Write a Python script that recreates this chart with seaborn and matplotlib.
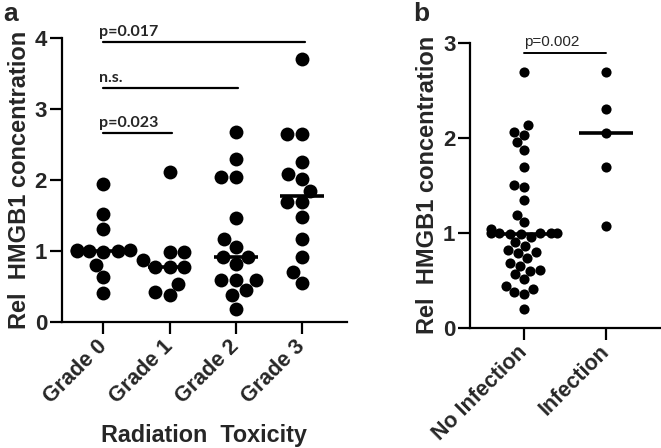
import numpy as np
import pandas as pd
import matplotlib
matplotlib.use("Agg")
import matplotlib.pyplot as plt
import seaborn as sns

# ---------------- data ----------------
grades = ["Grade 0", "Grade 1", "Grade 2", "Grade 3"]
grade0 = [1.95, 1.52, 1.31, 1.02, 1.01, 1.0, 1.0, 1.0, 0.99, 0.80, 0.63, 0.41]
grade1 = [2.11, 0.99, 0.99, 0.87, 0.77, 0.77, 0.77, 0.54, 0.42, 0.38]
grade2 = [2.68, 2.30, 2.04, 2.04, 1.46, 1.17, 1.06, 0.92, 0.92, 0.82,
          0.59, 0.59, 0.59, 0.45, 0.38, 0.19]
grade3 = [3.71, 2.65, 2.65, 2.25, 2.09, 2.02, 1.85, 1.69, 1.69, 1.48,
          1.17, 0.92, 0.70, 0.55]

groups_b = ["No Infection", "Infection"]
no_infection = [2.69, 2.13, 2.06, 2.03, 1.95, 1.87, 1.69, 1.50, 1.48, 1.34,
                1.19, 1.11, 1.04, 1.0, 1.0, 1.0, 1.0, 1.0, 0.99, 0.99,
                0.95, 0.90, 0.86, 0.82, 0.80, 0.78, 0.73, 0.68, 0.65, 0.61,
                0.60, 0.56, 0.51, 0.44, 0.41, 0.37, 0.35, 0.19]
infection = [2.69, 2.30, 2.05, 1.69, 1.07]

# significance annotations: (group i, group j, y of bar, label)
sig_a = [(0, 3, 3.94, "p=0.017"), (0, 2, 3.29, "n.s."), (0, 1, 2.66, "p=0.023")]
sig_b = [(0, 1, 2.89, "p=0.002")]

df_a = pd.DataFrame({
    "grade": sum([[g] * len(v) for g, v in zip(grades, [grade0, grade1, grade2, grade3])], []),
    "value": grade0 + grade1 + grade2 + grade3,
})
df_b = pd.DataFrame({
    "group": ["No Infection"] * len(no_infection) + ["Infection"] * len(infection),
    "value": no_infection + infection,
})

# ---------------- style ----------------
sns.set_style("ticks")
plt.rcParams["font.family"] = ["Liberation Sans", "DejaVu Sans"]
plt.rcParams["font.weight"] = "bold"
plt.rcParams["axes.labelweight"] = "bold"

W, H = 661, 448
fig = plt.figure(figsize=(W / 100, H / 100), dpi=100)
axa = fig.add_axes([61.7 / W, (H - 322) / H, (347 - 61.7) / W, (322 - 38) / H])
axb = fig.add_axes([470 / W, (H - 327.5) / H, (W - 470) / W, (327.5 - 42.7) / H])

def style_axes(ax):
    for s in ["top", "right"]:
        ax.spines[s].set_visible(False)
    for s in ["left", "bottom"]:
        ax.spines[s].set_linewidth(1.6)
        ax.spines[s].set_color("k")
    ax.tick_params(axis="both", direction="out", length=8.5, width=1.6, color="k",
                   labelsize=16, pad=2)
    ax.tick_params(axis="x", pad=7)

def style_xticklabels(ax):
    for lab in ax.get_xticklabels():
        lab.set_rotation(45)
        lab.set_ha("right")
        lab.set_va("center")
        lab.set_rotation_mode("anchor")
        lab.set_fontsize(15.5)
        lab.set_fontweight("bold")

# ---- panel a ----
sns.swarmplot(data=df_a, x="grade", y="value", order=grades, color="k",
              size=10, ax=axa, zorder=2, warn_thresh=1)
sns.boxplot(data=df_a, x="grade", y="value", order=grades, showbox=False,
            showcaps=False, showfliers=False, whiskerprops={"visible": False},
            medianprops={"color": "k", "linewidth": 2.6}, width=0.66, ax=axa,
            zorder=3)
axa.set_xlim(-0.63, 3.68)
axa.set_ylim(0, 4)
axa.set_yticks([0, 1, 2, 3, 4])
style_axes(axa)
axa.set_xlabel("Radiation  Toxicity", fontsize=16.8, fontweight="bold", labelpad=12)
axa.set_ylabel("Rel  HMGB1 concentration", fontsize=17, fontweight="bold", labelpad=3)
style_xticklabels(axa)
for i, j, y, txt in sig_a:
    axa.plot([i, j + 0.04], [y, y], color="k", lw=1.6, clip_on=False)
    axa.text(i - 0.07, y + 0.09, txt, fontsize=11.5, fontweight="bold",
             family=["Lato", "DejaVu Sans"], ha="left", va="baseline", clip_on=False)

# ---- panel b ----
sns.swarmplot(data=df_b, x="group", y="value", order=groups_b, color="k",
              size=7.3, ax=axb, zorder=2, warn_thresh=1)
sns.boxplot(data=df_b, x="group", y="value", order=groups_b, showbox=False,
            showcaps=False, showfliers=False, whiskerprops={"visible": False},
            medianprops={"color": "k", "linewidth": 2.6}, width=0.66, ax=axb,
            zorder=3)
axb.set_xlim(-0.66, 1.67)
axb.set_ylim(0, 3)
axb.set_yticks([0, 1, 2, 3])
style_axes(axb)
axb.set_xlabel("")
axb.set_ylabel("Rel  HMGB1 concentration", fontsize=17, fontweight="bold", labelpad=3)
style_xticklabels(axb)
for i, j, y, txt in sig_b:
    axb.plot([i, j], [y, y], color="k", lw=1.4, clip_on=False)
    axb.text(i, y + 0.075, txt, fontsize=11, fontweight="normal",
             ha="left", va="baseline", clip_on=False)

fig.text(3 / W, 1 - 2 / H, "a", fontsize=19, fontweight="bold", ha="left", va="top")
fig.text(413 / W, 1 - 2 / H, "b", fontsize=19, fontweight="bold", ha="left", va="top")

fig.savefig("out.png", dpi=100, facecolor="white")
